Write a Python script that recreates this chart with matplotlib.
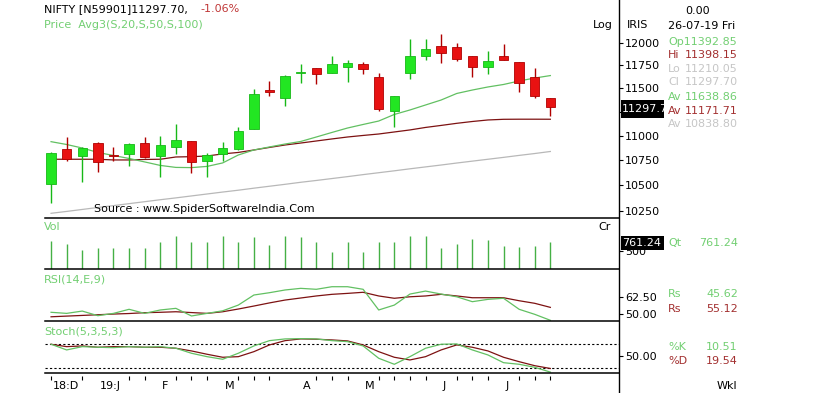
import numpy as np
import matplotlib
matplotlib.use("Agg")
import matplotlib.pyplot as plt
from matplotlib.lines import Line2D
from matplotlib.patches import Rectangle
from matplotlib.ticker import FixedLocator, NullLocator

# weekly NIFTY candles, 14-Dec-2018 .. 26-Jul-2019
opens  = [10511, 10861, 10793, 10929, 10808, 10811, 10922, 10796, 10882, 10946, 10746,
          10814, 10864, 11073, 11480, 11400, 11665, 11719, 11670, 11736, 11766, 11627,
          11262, 11664, 11858, 11966, 11952, 11855, 11736, 11858, 11788, 11627, 11392.85]
highs  = [10834, 10990, 10885, 10932, 10885, 10922, 10990, 10995, 11122, 10950, 10824,
          10939, 11091, 11493, 11583, 11640, 11766, 11725, 11855, 11810, 11791, 11670,
          11418, 12042, 12042, 12102, 11997, 11860, 11914, 11989, 11792, 11719, 11398.15]
lows   = [10329, 10740, 10537, 10636, 10745, 10693, 10775, 10586, 10818, 10626, 10586,
          10740, 10854, 11068, 11421, 11311, 11555, 11547, 11665, 11572, 11653, 11255,
          11094, 11598, 11810, 11774, 11802, 11620, 11656, 11805, 11461, 11397, 11210.05]
closes = [10824, 10760, 10874, 10736, 10793, 10915, 10783, 10905, 10956, 10730, 10800,
          10871, 11049, 11439, 11465, 11634, 11675, 11653, 11763, 11774, 11714, 11280,
          11418, 11855, 11933, 11885, 11825, 11730, 11796, 11810, 11561, 11421, 11297.70]

sma20 = [10939, 10910, 10874, 10829, 10798, 10768, 10733, 10698, 10678, 10676, 10688,
         10723, 10803, 10854, 10885, 10915, 10941, 10987, 11034, 11080, 11117, 11153,
         11222, 11269, 11322, 11375, 11445, 11482, 11515, 11542, 11580, 11612, 11638.86]
sma50 = [10760, 10760, 10760, 10760, 10753, 10753, 10758, 10760, 10783, 10786, 10793,
         10814, 10829, 10854, 10880, 10905, 10925, 10946, 10967, 10987, 11003, 11018,
         11039, 11060, 11086, 11107, 11129, 11148, 11164, 11171, 11172, 11172, 11171.71]
sma100 = [10228, 10246, 10265, 10284, 10302, 10321, 10340, 10359, 10377, 10396, 10415,
          10434, 10452, 10472, 10491, 10510, 10530, 10548, 10567, 10586, 10606, 10625,
          10644, 10664, 10683, 10702, 10722, 10741, 10760, 10779, 10799, 10818, 10838.80]

volume = [788, 697, 532, 579, 579, 579, 595, 761, 917, 761, 761, 917, 761, 882, 669, 917,
          882, 761, 485, 761, 485, 761, 761, 917, 917, 595, 697, 835, 807, 642, 623, 642, 761.24]

rsi = [51.5, 50.7, 52.4, 49.0, 50.7, 53.7, 50.7, 53.2, 54.4, 48.8, 50.7, 52.6, 56.8, 64.2,
       65.9, 67.9, 69.1, 68.4, 70.3, 70.3, 68.4, 53.2, 56.8, 64.9, 67.1, 64.9, 62.9, 59.3,
       61.0, 61.8, 53.7, 50.0, 45.62]
rsi_sig = [48.2, 48.7, 49.2, 49.7, 50.2, 50.6, 51.2, 51.5, 51.9, 51.3, 50.7, 51.9, 53.9, 56.1,
           58.4, 60.5, 62.0, 63.5, 64.7, 65.4, 66.2, 63.5, 61.8, 62.9, 63.5, 64.7, 63.5, 62.2,
           62.2, 62.2, 60.0, 58.1, 55.12]

stoch_k = [80, 65.8, 74, 72.5, 71.5, 74, 72.5, 74, 70, 57.5, 49, 42.5, 57.5, 75.8, 89, 93.3,
           94, 93.3, 89, 86.5, 75.8, 45, 30, 49, 70, 80, 80.8, 65.8, 53.3, 34, 30, 22.5, 10.51]
stoch_d = [80, 74, 75.8, 72.5, 74, 74, 72.5, 72.5, 70, 63.3, 55, 47.5, 49, 61.5, 78.3, 89,
           93.3, 92.5, 90.8, 88.3, 78.3, 61.5, 47.5, 40.8, 49, 65.8, 78.3, 72.5, 63.3, 47.5,
           36.5, 26.5, 19.54]

month_pos = [0, 3, 7, 11, 16, 20, 25, 29]
month_lbl = ["18:D", "19:J", "F", "M", "A", "M", "J", "J"]
tick_pos = [0, 2, 5, 6, 8, 9, 10, 12, 13, 14, 17, 18, 19, 21, 22, 23, 24, 26, 27, 28, 30, 31, 32]

price_ticks = [10250, 10500, 10750, 11000, 11250, 11500, 11750, 12000]
# 11250 sits under the last-price box, so its label is not shown
price_labels = ["10250", "10500", "10750", "11000", "", "11500", "11750", "12000"]

GREEN_BODY = "#22e622"
GREEN_EDGE = "#17b817"
RED_BODY = "#e81212"
RED_EDGE = "#b00000"
GREEN_LINE = "#62c062"
RED_LINE = "#7d1212"
GRAY_LINE = "#b8b8b8"
GREEN_TXT = "#72cf72"
RED_TXT = "#a33030"
GRAY_TXT = "#c6c6c6"

W, H = 822, 393
fig = plt.figure(figsize=(W / 100, H / 100), dpi=100)
plt.rcParams['font.family'] = ['DejaVu Sans']


def px_axes(x0, y0, x1, y1):
    return fig.add_axes([x0 / W, 1 - y1 / H, (x1 - x0) / W, (y1 - y0) / H])


def txt(x, y, s, color="black", **kw):
    fig.text(x / W, 1 - y / H, s, color=color, fontsize=8, va="center", ha="left", **kw)


def black_box(x0, y0, x1, y1, s):
    fig.add_artist(Rectangle((x0 / W, 1 - y1 / H), (x1 - x0) / W, (y1 - y0) / H,
                             transform=fig.transFigure, facecolor="black",
                             edgecolor="none", zorder=5))
    fig.text((x0 + 1) / W, 1 - (y0 + y1) / 2 / H, s, color="white", fontsize=8,
             va="center", ha="left", zorder=6)


def style_panel(ax):
    ax.set_xlim(-0.42, 36.4)
    for side in ["top", "left", "right"]:
        ax.spines[side].set_visible(False)
    ax.spines["bottom"].set_color("black")
    ax.spines["bottom"].set_linewidth(1.1)
    ax.set_xticks([])
    ax.yaxis.tick_right()
    ax.yaxis.set_minor_locator(NullLocator())
    ax.tick_params(axis="y", direction="out", length=3, width=0.8, pad=1.5,
                   labelsize=8, colors="black")
    ax.patch.set_alpha(0)


x = np.arange(len(closes))
L = 44.5
R = 619

# price panel
ax_p = px_axes(L, 0, R, 218)
ax_p.set_yscale("log")
style_panel(ax_p)
ax_p.set_ylim(10183, 12494)
ax_p.yaxis.set_major_locator(FixedLocator(price_ticks))
ax_p.set_yticklabels(price_labels)

ax_p.plot(x, sma100, color=GRAY_LINE, lw=0.9, zorder=1)
ax_p.plot(x, sma50, color=RED_LINE, lw=0.9, zorder=1)
ax_p.plot(x, sma20, color=GREEN_LINE, lw=0.9, zorder=1)

for i in range(len(closes)):
    up = closes[i] >= opens[i]
    body = GREEN_BODY if up else RED_BODY
    edge = GREEN_EDGE if up else RED_EDGE
    ax_p.vlines(i, lows[i], highs[i], color=edge, lw=1.0, zorder=2)
    lo = min(opens[i], closes[i])
    h = max(abs(closes[i] - opens[i]), 6)
    ax_p.bar(i, h, bottom=lo, width=0.6, color=body, edgecolor=edge, lw=0.6, zorder=3)

# volume panel
ax_v = px_axes(L, 218, R, 269.3)
style_panel(ax_v)
ax_v.set_ylim(0, 1415)
ax_v.vlines(x, 0, volume, color="#45b045", lw=1.0)
ax_v.yaxis.set_major_locator(FixedLocator([500]))
ax_v.set_yticklabels(["500"])

# RSI panel
ax_r = px_axes(L, 269.3, R, 321)
style_panel(ax_r)
ax_r.set_ylim(45.1, 83.1)
ax_r.plot(x, rsi_sig, color=RED_LINE, lw=0.9)
ax_r.plot(x, rsi, color=GREEN_LINE, lw=0.9)
ax_r.yaxis.set_major_locator(FixedLocator([50, 62.5]))
ax_r.set_yticklabels(["50.00", "62.50"])

# stochastic panel
ax_s = px_axes(L, 321, R, 373.3)
style_panel(ax_s)
ax_s.set_ylim(7.5, 138)
ax_s.axhline(80, color="black", lw=0.8, ls=(0, (2, 2)))
ax_s.axhline(20, color="black", lw=0.8, ls=(0, (2, 2)))
ax_s.plot(x, stoch_d, color=RED_LINE, lw=0.9)
ax_s.plot(x, stoch_k, color=GREEN_LINE, lw=0.9)
ax_s.yaxis.set_major_locator(FixedLocator([50]))
ax_s.set_yticklabels(["50.00"])

# date axis
ax_x = px_axes(L, 373.3, R, 393)
ax_x.set_xlim(-0.42, 36.4)
ax_x.set_ylim(0, 1)
ax_x.axis("off")
ax_x.vlines(tick_pos, 0.66, 0.86, color="black", lw=0.8)
for p, lbl in zip(month_pos, month_lbl):
    ax_x.text(p + 0.12, 0.38, lbl, fontsize=8, ha="left", va="center")

fig.add_artist(Line2D([R / W, R / W], [0, 1], transform=fig.transFigure, color="black", lw=1.0))

# headers
txt(44, 9, "NIFTY [N59901]11297.70,")
txt(200, 9, "-1.06%", color="#c03838")
txt(44, 25, "Price  Avg3(S,20,S,50,S,100)", color=GREEN_TXT)
txt(94, 209, "Source : www.SpiderSoftwareIndia.Com")
txt(593, 25, "Log")
txt(627, 25, "IRIS")
txt(44, 227, "Vol", color=GREEN_TXT)
txt(598, 227, "Cr")
txt(44, 279, "RSI(14,E,9)", color=GREEN_TXT)
txt(44, 331, "Stoch(5,3,5,3)", color=GREEN_TXT)
txt(717, 386, "Wkl")

# value boxes
black_box(621, 100, 664, 118, "11297.7")
black_box(621, 236, 664, 250, "761.24")

# info column
txt(685, 11, "0.00")
txt(668, 26, "26-07-19 Fri")
txt(668, 42, "Op11392.85", color=GREEN_TXT)
txt(668, 55, "Hi", color=RED_TXT)
txt(685, 55, "11398.15", color=RED_TXT)
txt(668, 69, "Lo", color=GRAY_TXT)
txt(685, 69, "11210.05", color=GRAY_TXT)
txt(668, 82, "Cl", color=GRAY_TXT)
txt(685, 82, "11297.70", color=GRAY_TXT)
txt(668, 97, "Av", color=GREEN_TXT)
txt(685, 97, "11638.86", color=GREEN_TXT)
txt(668, 111, "Av", color=RED_TXT)
txt(685, 111, "11171.71", color=RED_TXT)
txt(668, 124, "Av", color=GRAY_TXT)
txt(685, 124, "10838.80", color=GRAY_TXT)

txt(668, 243, "Qt", color=GREEN_TXT)
txt(699, 243, "761.24", color=GREEN_TXT)
txt(668, 294, "Rs", color=GREEN_TXT)
txt(706, 294, "45.62", color=GREEN_TXT)
txt(668, 309, "Rs", color=RED_TXT)
txt(706, 309, "55.12", color=RED_TXT)
txt(668, 347, "%K", color=GREEN_TXT)
txt(706, 347, "10.51", color=GREEN_TXT)
txt(668, 361, "%D", color=RED_TXT)
txt(706, 361, "19.54", color=RED_TXT)

fig.savefig("out.png", dpi=100)
